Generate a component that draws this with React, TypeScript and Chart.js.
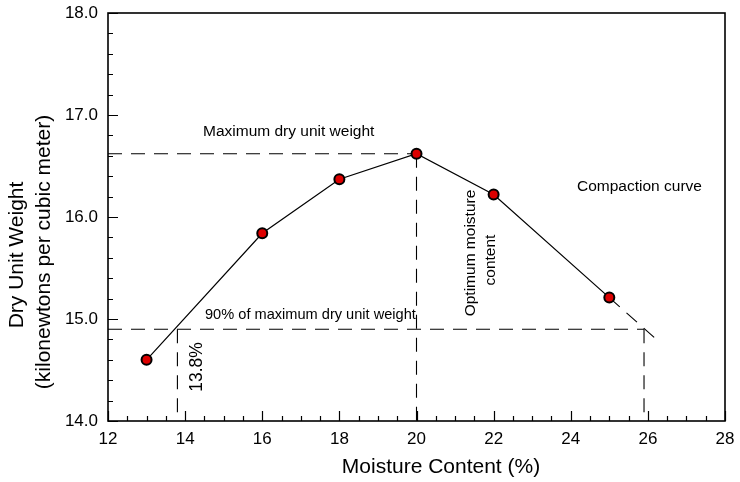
import React, { useEffect, useRef } from "react";
import { Chart, registerables } from "chart.js";

Chart.register(...registerables);

// Compaction test results
const moisture = [13, 16, 18, 20, 22, 25];
const dryWeight = [14.6, 15.84, 16.37, 16.62, 16.22, 15.21];

// Extrapolated tail of the curve
const tailMoisture = [25, 26.25];
const tailWeight = [15.21, 14.79];

// Reference values
const maxDryWeight = 16.62;
const optimumMoisture = 20;
const ninetyPctWeight = 14.9;
const lowMoisture90 = 13.8;
const highMoisture90 = 25.9;

// Axis ranges and ticks
const xMin = 12;
const xMax = 28;
const xStep = 2;
const xMinorStep = 0.5;
const yMin = 14;
const yMax = 18;
const yStep = 1;
const yMinorStep = 0.2;

const FONT = "'Liberation Sans', Arial, Helvetica, sans-serif";
const DASH = [14, 9];

const pts = (xs: number[], ys: number[]) => xs.map((x, i) => ({ x, y: ys[i] }));

const dashed = (data: { x: number; y: number }[]) => ({
  data,
  showLine: true,
  borderColor: "#000",
  borderWidth: 1.1,
  borderDash: DASH,
  pointRadius: 0,
  pointHoverRadius: 0,
  order: 2,
});

const framePlugin = {
  id: "frame",
  afterDraw(chart: any) {
    const { ctx, chartArea: a, scales } = chart;
    const xs = scales.x;
    const ys = scales.y;
    ctx.save();
    ctx.strokeStyle = "#000";
    ctx.lineWidth = 1.6;
    ctx.strokeRect(a.left, a.top, a.right - a.left, a.bottom - a.top);

    // inward tick marks
    ctx.lineWidth = 1.2;
    ctx.beginPath();
    for (let v = xMin; v <= xMax + 1e-9; v += xMinorStep) {
      const major = Math.abs(v / xStep - Math.round(v / xStep)) < 1e-6;
      const px = Math.round(xs.getPixelForValue(v)) + 0.5;
      ctx.moveTo(px, a.bottom);
      ctx.lineTo(px, a.bottom - (major ? 10 : 5));
    }
    for (let v = yMin; v <= yMax + 1e-9; v += yMinorStep) {
      const major = Math.abs(v / yStep - Math.round(v / yStep)) < 1e-6;
      const py = Math.round(ys.getPixelForValue(v)) + 0.5;
      ctx.moveTo(a.left, py);
      ctx.lineTo(a.left + (major ? 10 : 5), py);
    }
    ctx.stroke();

    ctx.fillStyle = "#000";
    const text = (s: string, x: number, y: number, size: number, align: CanvasTextAlign, rot = 0) => {
      ctx.save();
      ctx.translate(x, y);
      if (rot) ctx.rotate(rot);
      ctx.font = `${size}px ${FONT}`;
      ctx.textAlign = align;
      ctx.textBaseline = "alphabetic";
      ctx.fillText(s, 0, 0);
      ctx.restore();
    };
    const up = -Math.PI / 2;

    // axis titles
    text("Moisture Content (%)", 441, 473, 21, "center");
    text("Dry Unit Weight", 23, 255, 21, "center", up);
    text("(kilonewtons per cubic meter)", 50, 252, 21, "center", up);

    // annotations
    text("Maximum dry unit weight", 203, 136, 15.5, "left");
    text("90% of maximum dry unit weight", 205, 319, 14.6, "left");
    text("Compaction curve", 577, 191, 15.5, "left");
    text("Optimum moisture", 475, 253, 15.5, "center", up);
    text("content", 495, 260, 15.5, "center", up);
    text("13.8%", 202, 367, 17.5, "center", up);
    ctx.restore();
  },
};

export default function App() {
  const ref = useRef<HTMLCanvasElement | null>(null);

  useEffect(() => {
    if (!ref.current) return;
    const chart = new Chart(ref.current, {
      type: "scatter",
      data: {
        datasets: [
          {
            data: pts(moisture, dryWeight),
            showLine: true,
            borderColor: "#000",
            borderWidth: 1.2,
            pointRadius: 5,
            pointHoverRadius: 5,
            pointBackgroundColor: "#dd0000",
            pointBorderColor: "#000",
            pointBorderWidth: 2,
            order: 0,
          },
          dashed(pts(tailMoisture, tailWeight)),
          dashed([
            { x: xMin, y: maxDryWeight },
            { x: optimumMoisture, y: maxDryWeight },
          ]),
          dashed([
            { x: optimumMoisture, y: maxDryWeight },
            { x: optimumMoisture, y: yMin },
          ]),
          dashed([
            { x: xMin, y: ninetyPctWeight },
            { x: highMoisture90, y: ninetyPctWeight },
          ]),
          dashed([
            { x: lowMoisture90, y: ninetyPctWeight },
            { x: lowMoisture90, y: yMin },
          ]),
          dashed([
            { x: highMoisture90, y: ninetyPctWeight },
            { x: highMoisture90, y: yMin },
          ]),
        ],
      },
      options: {
        responsive: false,
        animation: false,
        layout: { padding: { left: 0, top: 13, right: 15, bottom: 0 } },
        plugins: {
          legend: { display: false },
          tooltip: { enabled: false },
        },
        scales: {
          x: {
            type: "linear",
            min: xMin,
            max: xMax,
            afterFit: (s: any) => {
              s.height = 61;
              s.paddingLeft = 0;
              s.paddingRight = 0;
            },
            ticks: {
              stepSize: xStep,
              padding: 8,
              color: "#000",
              font: { family: FONT, size: 17 },
            },
            grid: { display: false, drawTicks: false },
            border: { display: false },
          },
          y: {
            type: "linear",
            min: yMin,
            max: yMax,
            afterFit: (s: any) => {
              s.width = 108;
              s.paddingTop = 0;
              s.paddingBottom = 0;
            },
            ticks: {
              stepSize: yStep,
              padding: 10,
              color: "#000",
              font: { family: FONT, size: 17 },
              callback: (v: any) => Number(v).toFixed(1),
            },
            grid: { display: false, drawTicks: false },
            border: { display: false },
          },
        },
      },
      plugins: [framePlugin],
    });
    return () => chart.destroy();
  }, []);

  return (
    <div style={{ position: "fixed", left: 0, top: 0, width: 740, height: 482, background: "#fff" }}>
      <canvas ref={ref} width={740} height={482} style={{ display: "block" }} />
    </div>
  );
}
